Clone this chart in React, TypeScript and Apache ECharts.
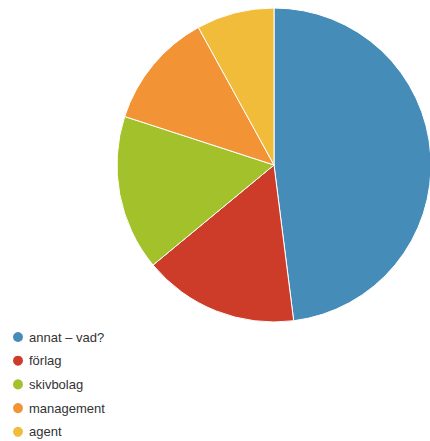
import React, { useEffect, useRef } from "react";
import * as echarts from "echarts";

const categories = ["annat – vad?", "förlag", "skivbolag", "management", "agent"];
const values = [12, 4, 4, 3, 2];
const colors = ["#468cb8", "#cd3c28", "#a2c12a", "#f29436", "#f2bc3b"];

export default function App() {
  const ref = useRef<HTMLDivElement>(null);
  useEffect(() => {
    document.body.style.margin = "0";
    const chart = echarts.init(ref.current!, undefined, { renderer: "svg" });
    chart.setOption({
      animation: false,
      color: colors,
      legend: {
        orient: "vertical",
        left: 6,
        top: 325,
        height: 120,
        icon: "circle",
        itemWidth: 12,
        itemHeight: 12,
        itemGap: 9.7,
        textStyle: { fontFamily: "Liberation Sans, Arial, sans-serif", fontSize: 13, color: "#333" },
        data: categories,
      },
      series: [
        {
          type: "pie",
          center: [274, 165],
          radius: 157,
          startAngle: 90,
          clockwise: true,
          label: { show: false },
          labelLine: { show: false },
          itemStyle: { borderColor: "#fff", borderWidth: 1 },
          emphasis: { disabled: true },
          data: categories.map((c, i) => ({ name: c, value: values[i] })),
        },
      ],
    });
    return () => chart.dispose();
  }, []);
  return <div ref={ref} style={{ width: 430, height: 441 }} />;
}
